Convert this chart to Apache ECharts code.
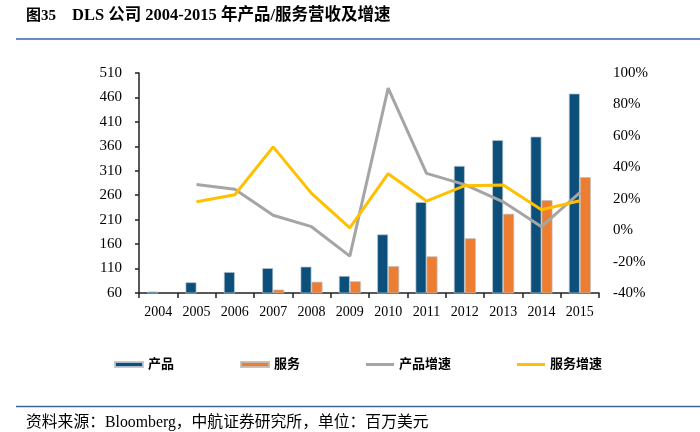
<!DOCTYPE html>
<html>
<head>
<meta charset="utf-8">
<script src="https://cdn.jsdelivr.net/npm/echarts@6/dist/echarts.min.js"></script>
<style>html,body{margin:0;padding:0;background:#fff;}#c{width:700px;height:432px;}</style>
</head>
<body>
<div id="c"></div>
<script>
const years = ['2004','2005','2006','2007','2008','2009','2010','2011','2012','2013','2014','2015'];
const productRevenue = [63, 82, 103, 111, 114, 95, 180, 246, 320, 373, 380, 468];
const serviceRevenue = [30, 36, 44, 67, 83, 84, 115, 135, 172, 222, 250, 297];
const productGrowth = [null, 29, 26, 9.5, 2.2, -16.5, 90.4, 36.1, 29, 18, 2.2, 23.8];
const serviceGrowth = [null, 18.1, 22.5, 53, 23.4, 1.5, 35.9, 18.5, 28.3, 28.7, 13, 18.7];
const leftTicks = {min: 60, max: 510, interval: 50};
const rightTicks = {min: -40, max: 100, interval: 20};

const FONT = "'Liberation Serif', 'Noto Sans CJK SC', serif";
const LINE_ICON = 'path://M0,0L0.01,0M0,1.1H28V3.9H0ZM0,5L0.01,5';
const chart = echarts.init(document.getElementById('c'));
chart.setOption({
  animation: false,
  backgroundColor: '#fff',
  textStyle: {fontFamily: FONT},
  grid: {left: 139, right: 101, top: 73, bottom: 139},
  legend: {
    left: 114, top: 358, padding: 0, itemGap: 66, itemWidth: 28, itemHeight: 5,
    textStyle: {fontFamily: FONT, fontSize: 13, color: '#000', fontWeight: 'bold'},
    data: [
      {name: '产品', icon: 'rect'},
      {name: '服务', icon: 'rect'},
      {name: '产品增速', icon: LINE_ICON},
      {name: '服务增速', icon: LINE_ICON}
    ]
  },
  xAxis: {
    type: 'category', data: years,
    axisLine: {onZero: false, lineStyle: {color: '#222', width: 1.5}},
    axisTick: {show: true, interval: 0, length: 5, lineStyle: {color: '#222', width: 1.5}},
    axisLabel: {color: '#000', fontSize: 14, margin: 12, fontFamily: FONT}
  },
  yAxis: [
    {
      type: 'value', min: leftTicks.min, max: leftTicks.max, interval: leftTicks.interval,
      axisLine: {show: true, lineStyle: {color: '#222', width: 1.5}},
      axisTick: {show: true, length: 4, lineStyle: {color: '#222', width: 1.5}},
      splitLine: {show: false},
      axisLabel: {color: '#000', fontSize: 15, margin: 17, fontFamily: FONT}
    },
    {
      type: 'value', min: rightTicks.min, max: rightTicks.max, interval: rightTicks.interval,
      axisLine: {show: false}, axisTick: {show: false}, splitLine: {show: false},
      axisLabel: {color: '#000', fontSize: 15, margin: 14, fontFamily: FONT, formatter: '{value}%'}
    }
  ],
  series: [
    {name: '产品', type: 'bar', data: productRevenue, barWidth: 11, barGap: '0%',
     itemStyle: {color: '#0b4f7a', borderColor: 'rgba(190,200,210,0.9)', borderWidth: 0.8}},
    {name: '服务', type: 'bar', data: serviceRevenue, barWidth: 11, barGap: '0%',
     itemStyle: {color: '#ed7d31', borderColor: 'rgba(190,190,190,0.9)', borderWidth: 0.8}},
    {name: '产品增速', type: 'line', yAxisIndex: 1, data: productGrowth, symbol: 'none',
     lineStyle: {color: '#a5a5a5', width: 3}, itemStyle: {color: '#a5a5a5'}},
    {name: '服务增速', type: 'line', yAxisIndex: 1, data: serviceGrowth, symbol: 'none',
     lineStyle: {color: '#ffc000', width: 3}, itemStyle: {color: '#ffc000'}}
  ],
  graphic: [
    {type: 'text', left: 26, top: 9, style: {text: '图35', font: "bold 15px " + FONT, fill: '#000'}},
    {type: 'text', left: 72, top: 7, style: {text: 'DLS 公司 2004-2015 年产品/服务营收及增速', font: "bold 16.5px " + FONT, fill: '#000'}},
    {type: 'line', shape: {x1: 16, y1: 39, x2: 700, y2: 39}, style: {stroke: '#3a64a8', lineWidth: 1.5}},
    {type: 'line', shape: {x1: 16, y1: 406.5, x2: 700, y2: 406.5}, style: {stroke: '#3a64a8', lineWidth: 1.5}},
    {type: 'text', left: 26, top: 415, style: {text: '资料来源：Bloomberg，中航证券研究所，单位：百万美元', font: "15.8px " + FONT, fill: '#000'}}
  ]
});
</script>
</body>
</html>
